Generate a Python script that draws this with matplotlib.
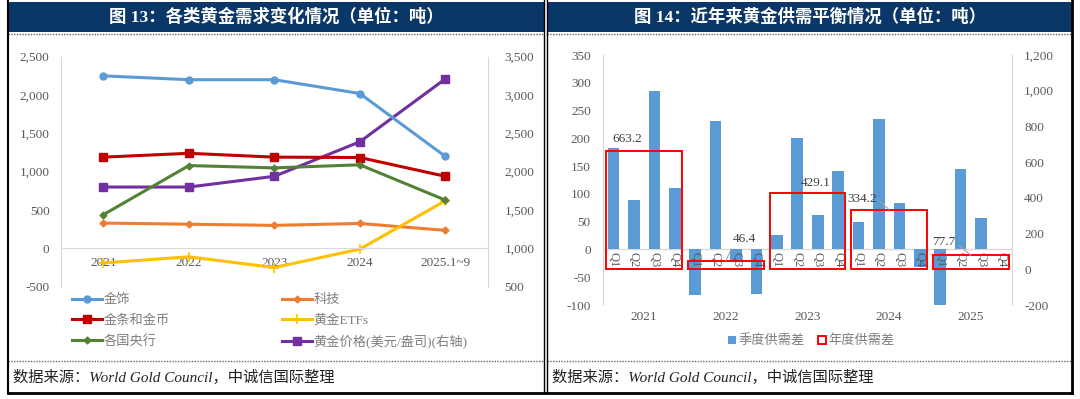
import numpy as np
import matplotlib
matplotlib.use('Agg')
import matplotlib.pyplot as plt
from matplotlib.lines import Line2D
from matplotlib.patches import Rectangle, Patch
from matplotlib.ticker import FuncFormatter

# ---- data ----
years_l    = ['2021', '2022', '2023', '2024', '2025.1~9']
jewelry    = [2250, 2200, 2200, 2020, 1200]
tech       = [330, 315, 300, 325, 235]
bars_coins = [1190, 1240, 1190, 1185, 940]
etfs       = [-190, -110, -250, -10, 620]
cbanks     = [440, 1080, 1050, 1090, 630]
price      = [1800, 1800, 1940, 2390, 3210]

years_r   = ['2021', '2022', '2023', '2024', '2025']
quarters  = ['Q1', 'Q2', 'Q3', 'Q4']
quarterly = [182, 89, 285, 110,
             -82, 232, -23, -81,
             26, 201, 62, 142,
             50, 234, 83, -31,
             -100, 144, 56, np.nan]
annual    = [663.2, 46.4, 429.1, 334.2, 77.7]

plt.rcParams['font.family'] = ['Liberation Serif', 'Noto Sans CJK SC']
plt.rcParams['axes.unicode_minus'] = False

W, H = 1080, 399
fig = plt.figure(figsize=(W / 100, H / 100), dpi=100)
fig.patch.set_facecolor('white')

navy = '#0b3768'
gray_txt = '#595959'
gray_leg = '#7f7f7f'
gray_ax = '#d9d9d9'


def axes_px(x0, y0, x1, y1):
    return fig.add_axes([x0 / W, 1 - y1 / H, (x1 - x0) / W, (y1 - y0) / H])


def hline(x0, x1, y, **kw):
    fig.add_artist(Line2D([x0 / W, x1 / W], [1 - y / H, 1 - y / H], transform=fig.transFigure, **kw))


def vline(x, y0, y1, **kw):
    fig.add_artist(Line2D([x / W, x / W], [1 - y0 / H, 1 - y1 / H], transform=fig.transFigure, **kw))


thousands = FuncFormatter(lambda v, p: f'{v:,.0f}')

# ---- panel frames ----
for x0, x1, title in [(8, 544, '图 13：各类黄金需求变化情况（单位：吨）'),
                      (547, 1072, '图 14：近年来黄金供需平衡情况（单位：吨）')]:
    fig.add_artist(Rectangle((x0 / W, 1 - 32 / H), (x1 - x0) / W, 30 / H,
                             transform=fig.transFigure, color=navy, lw=0))
    fig.text((x0 + x1) / 2 / W, 1 - 17 / H, title, color='white', fontsize=12.5,
             fontweight='bold', ha='center', va='center')
    hline(x0, x1, 34, color='#666666', lw=1, ls=(0, (1, 1)))
    hline(x0, x1, 361, color='#666666', lw=1, ls=(0, (1, 1)))
    fig.text((x0 + 5) / W, 1 - 377 / H, '数据来源：World Gold Council，中诚信国际整理',
             fontsize=11, style='italic', color='#222222', ha='left', va='center')

vline(7.5, 0, 393, color='black', lw=1.5)
vline(544.3, 0, 393, color='black', lw=1)
vline(546.7, 0, 393, color='black', lw=1)
vline(1071.7, 0, 393, color='black', lw=2)
hline(7.5, 1072, 392.5, color='black', lw=2)

# ---- left chart ----
ax1 = axes_px(60.7, 56.7, 488, 286.7)
ax1b = ax1.twinx()
x = np.arange(len(years_l))

l1, = ax1.plot(x, jewelry, color='#5b9bd5', lw=2.2, marker='o', ms=5, label='金饰')
l2, = ax1.plot(x, tech, color='#ed7d31', lw=2.2, marker='D', ms=3.5, label='科技')
l3, = ax1.plot(x, bars_coins, color='#c00000', lw=2.2, marker='s', ms=5.5, label='金条和金币')
l4, = ax1.plot(x, etfs, color='#ffc000', lw=2.2, marker='+', ms=7, mew=1.2, label='黄金ETFs')
l5, = ax1.plot(x, cbanks, color='#548235', lw=2.2, marker='D', ms=3.5, label='各国央行')
l6, = ax1b.plot(x, price, color='#7030a0', lw=2.2, marker='s', ms=5.5, label='黄金价格(美元/盎司)(右轴)')

ax1.set_xlim(-0.5, len(years_l) - 0.5)
ax1.set_ylim(-500, 2500)
ax1.set_yticks(np.arange(-500, 2501, 500))
ax1b.set_ylim(500, 3500)
ax1b.set_yticks(np.arange(500, 3501, 500))
ax1.set_xticks(x)
ax1.set_xticklabels(years_l)
ax1.yaxis.set_major_formatter(thousands)
ax1b.yaxis.set_major_formatter(thousands)

for a in (ax1, ax1b):
    for s in ('top', 'bottom', 'left', 'right'):
        a.spines[s].set_visible(False)
ax1.spines['left'].set_visible(True)
ax1.spines['left'].set_color(gray_ax)
ax1b.spines['right'].set_visible(True)
ax1b.spines['right'].set_color(gray_ax)
ax1.spines['bottom'].set_visible(True)
ax1.spines['bottom'].set_position(('data', 0))
ax1.spines['bottom'].set_color(gray_ax)
ax1.tick_params(axis='x', length=0, pad=6, labelsize=9.5, labelcolor=gray_txt)
ax1.tick_params(axis='y', length=0, pad=8, labelsize=9.5, labelcolor=gray_txt)
ax1b.tick_params(axis='y', length=0, pad=12, labelsize=9.5, labelcolor=gray_txt)
ax1.set_zorder(ax1b.get_zorder() + 1)
ax1.patch.set_visible(False)

leg1 = fig.legend([l1, l3, l5, l2, l4, l6],
                  [h.get_label() for h in [l1, l3, l5, l2, l4, l6]],
                  ncol=2, loc='upper left', bbox_to_anchor=(72 / W, 1 - 294 / H),
                  frameon=False, fontsize=9.5, handlelength=2.3, handletextpad=0.1,
                  columnspacing=8.5, labelspacing=0.62, borderaxespad=0, borderpad=0)
for t in leg1.get_texts():
    t.set_color(gray_leg)

# ---- right chart ----
ax2 = axes_px(603.3, 55, 1011.7, 305)
ax2b = ax2.twinx()
xq = np.arange(len(quarterly))
b1 = ax2.bar(xq, quarterly, width=0.57, color='#5b9bd5', zorder=2)

xa = np.arange(len(annual)) * 4 + 1.5
ax2b.bar(xa, annual, width=3.72, facecolor='none', edgecolor='#ff0000', lw=1.4)

ax2.set_xlim(-0.5, len(quarterly) - 0.5)
ax2.set_ylim(-100, 350)
ax2.set_yticks(np.arange(-100, 351, 50))
ax2b.set_ylim(-200, 1200)
ax2b.set_yticks(np.arange(-200, 1201, 200))
ax2.yaxis.set_major_formatter(thousands)
ax2b.yaxis.set_major_formatter(thousands)
ax2.set_xticks([])

for a in (ax2, ax2b):
    for s in ('top', 'bottom', 'left', 'right'):
        a.spines[s].set_visible(False)
ax2.spines['left'].set_visible(True)
ax2.spines['left'].set_color(gray_ax)
ax2b.spines['right'].set_visible(True)
ax2b.spines['right'].set_color(gray_ax)
ax2.axhline(0, color=gray_ax, lw=1, zorder=1)
ax2.tick_params(axis='y', length=0, pad=9, labelsize=9.5, labelcolor=gray_txt)
ax2b.tick_params(axis='y', length=0, pad=9, labelsize=9.5, labelcolor=gray_txt)

for i in xq:
    ax2.annotate(quarters[i % 4], xy=(i, 0), xytext=(0, -3), textcoords='offset pixels',
                 rotation=-90, ha='center', va='top', fontsize=9, color=gray_txt)
for k, yr in enumerate(years_r):
    ax2.text(xa[k], -0.025, yr, transform=ax2.get_xaxis_transform(),
             ha='center', va='top', fontsize=9.5, color=gray_txt)

# annual labels: (dx, dy) pixel offsets from the box top centre, leader anchor
lab_off = [(-17, 12, None), (19, 22, (0, 0)), (8, 10, None), (-27, 11, (1, 0.5)), (-27, 13, (1, 0.5))]
for k, v in enumerate(annual):
    dx, dy, rel = lab_off[k]
    kw = {}
    if rel is not None:
        kw['arrowprops'] = dict(arrowstyle='-', color='#a6a6a6', lw=0.8, shrinkA=1, shrinkB=0,
                                relpos=rel)
    ax2b.annotate(f'{v:.1f}', xy=(xa[k], v), xytext=(dx, dy), textcoords='offset pixels',
                  ha='center', va='center', fontsize=9.5, color='#404040', **kw)

leg2 = fig.legend([Patch(facecolor='#5b9bd5', edgecolor='none'),
                   Patch(facecolor='none', edgecolor='#ff0000', lw=1.4)],
                  ['季度供需差', '年度供需差'], ncol=2, loc='center',
                  bbox_to_anchor=(811 / W, 1 - 341 / H), frameon=False, fontsize=9.5,
                  handlelength=0.6, handleheight=0.6, handletextpad=0.2, columnspacing=1.0)
for t in leg2.get_texts():
    t.set_color(gray_leg)

fig.savefig('out.png', dpi=100)
